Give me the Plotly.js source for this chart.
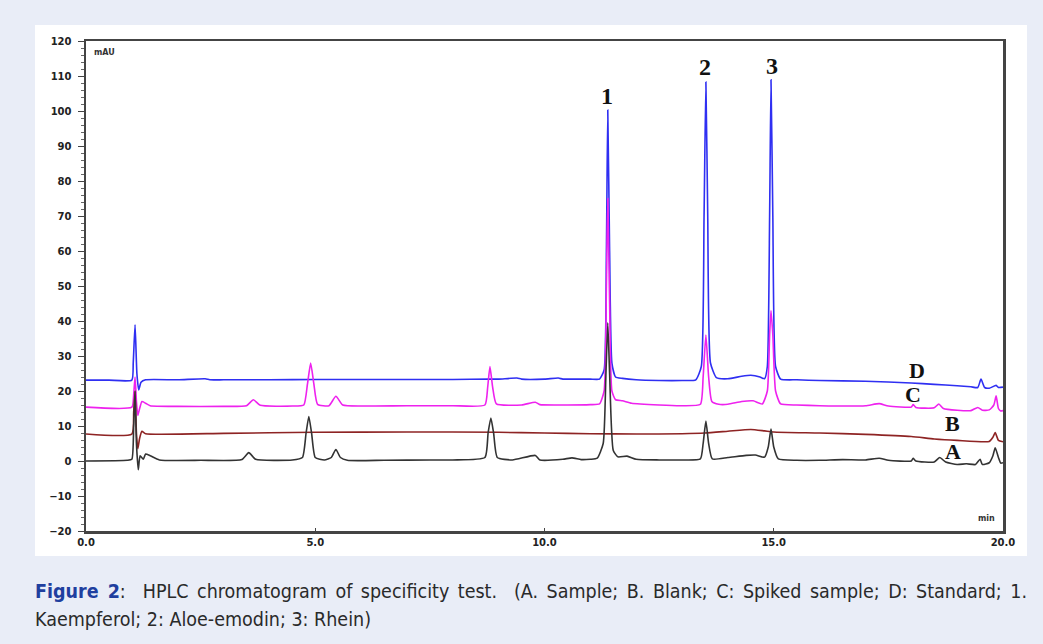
<!DOCTYPE html>
<html>
<head>
<meta charset="utf-8">
<script src="https://cdn.plot.ly/plotly-3.0.1.min.js"></script>
<style>
html,body{margin:0;padding:0;background:#e9edf7;}
#wrap{position:relative;width:1043px;height:644px;}
#chart{width:1043px;height:644px;}
.cap{position:absolute;left:35px;width:992px;font-family:'DejaVu Sans Condensed','DejaVu Sans',sans-serif;font-stretch:condensed;font-size:19.5px;line-height:28px;color:#2a2a2a;white-space:nowrap;}
#cap1{top:578px;text-align:justify;text-align-last:justify;}
#cap2{top:606px;text-align:left;}
.cap b{color:#1f3f9f;}
</style>
</head>
<body>
<div id="wrap">
<div id="chart"></div>
<div class="cap" id="cap1"><b>Figure 2</b>:&nbsp; HPLC chromatogram of specificity test.&nbsp; (A. Sample; B. Blank; C: Spiked sample; D: Standard; 1.</div>
<div class="cap" id="cap2">Kaempferol; 2: Aloe-emodin; 3: Rhein)</div>
</div>
<script>
// Trace D: Standard (blue)
const tD = [0,0.5,1.0,1.03,1.07,1.11,1.15,1.2,1.3,2.0,2.6,2.7,3.0,4.0,5.0,6.0,7.0,8.0,8.8,9.0,9.4,9.5,10.0,10.3,10.4,10.6,11.0,11.2,11.3,11.35,11.38,11.42,11.47,11.55,11.7,12.0,12.5,13.0,13.3,13.42,13.48,13.52,13.56,13.62,13.75,14.0,14.3,14.5,14.7,14.8,14.86,14.91,14.94,14.98,15.04,15.15,15.5,16.0,17.0,18.0,18.5,19.0,19.3,19.45,19.52,19.6,19.7,19.85,19.9,20.0];
const yD = [23.1,23.1,23.1,28,38.9,25,20.3,22.5,23.2,23.2,23.5,23.2,23.2,23.2,23.3,23.3,23.3,23.3,23.4,23.4,23.7,23.4,23.4,23.7,23.4,23.4,23.4,23.4,26,60,100.3,60,28,24,23.6,23.2,23.0,23.0,23.2,27,70,108.3,70,28,23.8,23.5,24.2,24.5,24.0,23.5,27,70,108.9,70,27,23.4,23.2,23.0,22.8,22.3,21.9,21.5,21.2,21.0,23.4,21.0,20.8,21.6,21.0,21.1];

// Trace C: Spiked sample (magenta)
const tC = [0,1.0,1.04,1.07,1.1,1.13,1.17,1.22,1.3,1.4,2.0,3.0,3.5,3.65,3.8,4.5,4.75,4.83,4.9,4.97,5.05,5.3,5.45,5.6,6.0,7.0,8.0,8.7,8.76,8.81,8.87,8.95,9.5,9.8,9.9,10.5,11.0,11.2,11.3,11.35,11.38,11.42,11.47,11.55,11.7,11.9,12.5,13.0,13.4,13.46,13.52,13.58,13.65,13.8,14.0,14.3,14.55,14.75,14.86,14.91,14.94,14.98,15.04,15.15,15.5,16.0,17.0,17.3,17.5,18.0,18.04,18.1,18.5,18.6,18.7,19.0,19.3,19.45,19.55,19.7,19.8,19.85,19.9,19.95,20.0];
const yC = [15.4,15.4,19,24,17,13,15,17,16.5,15.8,15.6,15.6,15.8,17.5,15.9,15.7,16,22,28,22,16.2,15.8,18.5,16,15.7,15.8,15.8,16,21,27,21,16.3,16,16.8,16.1,16,16.1,16.3,20,50,75,45,20,17.5,17.2,16.5,16,15.8,16.2,24,36,24,17,16.2,16.2,17,17.2,16.3,20,36,43,36,20,16.3,16,15.8,15.8,16.4,15.7,15.4,16.1,15.3,15.2,16.3,15.0,14.5,14.4,15.3,14.5,14.6,16,18.6,15,14.3,14.4];

// Trace B: Blank (dark red)
const tB = [0,1.0,1.04,1.07,1.1,1.13,1.17,1.22,1.3,3.0,5.0,7.0,9.0,10.0,11.0,12.0,13.0,13.5,14.0,14.5,14.8,15.0,16.0,17.0,18.0,18.5,19.0,19.7,19.78,19.83,19.9,20.0];
const yB = [7.7,7.7,14,20,8,3.5,6.5,8.5,7.8,7.9,8.2,8.3,8.2,8.0,7.8,7.7,7.8,8.0,8.5,9.0,8.6,8.3,8.0,7.6,7.0,6.3,5.9,5.6,6.8,8.1,5.9,5.5];

// Trace A: Sample (black)
const tA = [0,0.9,1.0,1.04,1.07,1.1,1.14,1.18,1.25,1.3,1.4,1.6,2.5,3.4,3.55,3.7,4.5,4.72,4.8,4.86,4.92,5.0,5.2,5.35,5.45,5.55,5.7,6.5,7.5,8.0,8.7,8.77,8.83,8.89,8.97,9.3,9.8,9.9,10.4,10.6,10.8,11.0,11.15,11.28,11.34,11.38,11.42,11.5,11.6,11.8,12.0,12.5,13.0,13.4,13.46,13.52,13.58,13.66,14.0,14.4,14.6,14.8,14.88,14.94,15.0,15.1,15.5,16.0,16.5,17.0,17.3,17.5,18.0,18.04,18.1,18.5,18.62,18.75,19.0,19.2,19.4,19.5,19.55,19.7,19.78,19.83,19.9,19.95,20.0];
const yA = [0,0.2,0.5,10,20,5,-2.5,1.5,0.5,2,1.5,0.3,0.2,0.4,2.4,0.5,0.3,1,8,12.7,8,1,0.3,1,3.3,1,0.2,0.2,0.3,0.3,1,8,12.3,8,1,0.3,1.6,0.3,0.5,0.9,0.4,0.5,0.8,5,25,39.5,25,3,1.2,1.4,0.5,0.3,0.3,0.6,5,11.4,5,0.6,1,1.6,1.7,1.1,4,9.1,4,0.6,0.2,0.2,0.4,0.3,0.8,0.2,0,0.8,0,-0.3,1.0,-0.3,-1,-0.8,-1,0.5,-1,-0.5,1.5,3.8,1,-0.6,-0.5];

// Labels
const traceLabels = ['D','C','B','A'];
const traceLabelX = [18.12,18.04,18.9,18.9];
const traceLabelY = [26,18.9,10.6,2.6];
const peakLabels = ['1','2','3'];
const peakLabelX = [11.36,13.5,14.96];
const peakLabelY = [104.3,112.6,112.9];

const yTicks = [-20,-10,0,10,20,30,40,50,60,70,80,90,100,110,120];
const xTicks = [0,5,10,15,20];
const xTickText = ['0.0','5.0','10.0','15.0','20.0'];

const lw = 1.6;
const ln = (c)=>({color:c, width:lw, shape:'spline', smoothing:0.5});
const traces = [
  {x:tD, y:yD, mode:'lines', line:ln('#2f2ff2'), name:'D'},
  {x:tC, y:yC, mode:'lines', line:ln('#ee22ee'), name:'C'},
  {x:tB, y:yB, mode:'lines', line:ln('#8e2424'), name:'B'},
  {x:tA, y:yA, mode:'lines', line:ln('#333333'), name:'A'}
];

const annotations = [];
traceLabels.forEach((t,i)=>annotations.push({x:traceLabelX[i], y:traceLabelY[i], xref:'x', yref:'y', text:'<b>'+t+'</b>', showarrow:false, font:{family:'Liberation Serif, Times New Roman, serif', size:22, color:'#111'}}));
peakLabels.forEach((t,i)=>annotations.push({x:peakLabelX[i], y:peakLabelY[i], xref:'x', yref:'y', text:'<b>'+t+'</b>', showarrow:false, font:{family:'Liberation Serif, Times New Roman, serif', size:24, color:'#111'}}));
annotations.push({x:0.0065, y:0.99, xref:'paper', yref:'paper', xanchor:'left', yanchor:'top', text:'<b>mAU</b>', showarrow:false, font:{family:'DejaVu Sans', size:8, color:'#333'}});
annotations.push({x:0.993, y:0.012, xref:'paper', yref:'paper', xanchor:'right', yanchor:'bottom', text:'<b>min</b>', showarrow:false, font:{family:'DejaVu Sans', size:8, color:'#333'}});

const tickFont = {family:'DejaVu Sans', size:10, color:'#222', weight:'bold'};
const layout = {
  width:1043, height:644,
  margin:{l:86, r:40, t:41, b:113},
  paper_bgcolor:'#e9edf7',
  plot_bgcolor:'#ffffff',
  showlegend:false,
  shapes:[{type:'rect', xref:'paper', yref:'paper', x0:(35-86)/917, x1:(1027-86)/917, y0:(531-556)/490, y1:(531-25)/490, fillcolor:'#ffffff', line:{width:0}, layer:'below'}],
  xaxis:{range:[0,20], tickvals:xTicks, ticktext:xTickText, showgrid:false, zeroline:false,
    showline:true, linecolor:'#444', linewidth:2.5, mirror:true, ticks:'inside', ticklen:3, tickcolor:'#444',
    tickfont:tickFont},
  yaxis:{range:[-20,120], tickvals:yTicks, showgrid:false, zeroline:false,
    showline:true, linecolor:'#444', linewidth:2.5, mirror:true, ticks:'outside', ticklen:6, tickcolor:'#444',
    ticklabelstandoff:4,
    minor:{dtick:2, ticks:'outside', ticklen:3, tickcolor:'#666', showgrid:false},
    tickfont:tickFont},
  annotations:annotations
};
Plotly.newPlot('chart', traces, layout, {staticPlot:true, displayModeBar:false});
</script>
</body>
</html>
